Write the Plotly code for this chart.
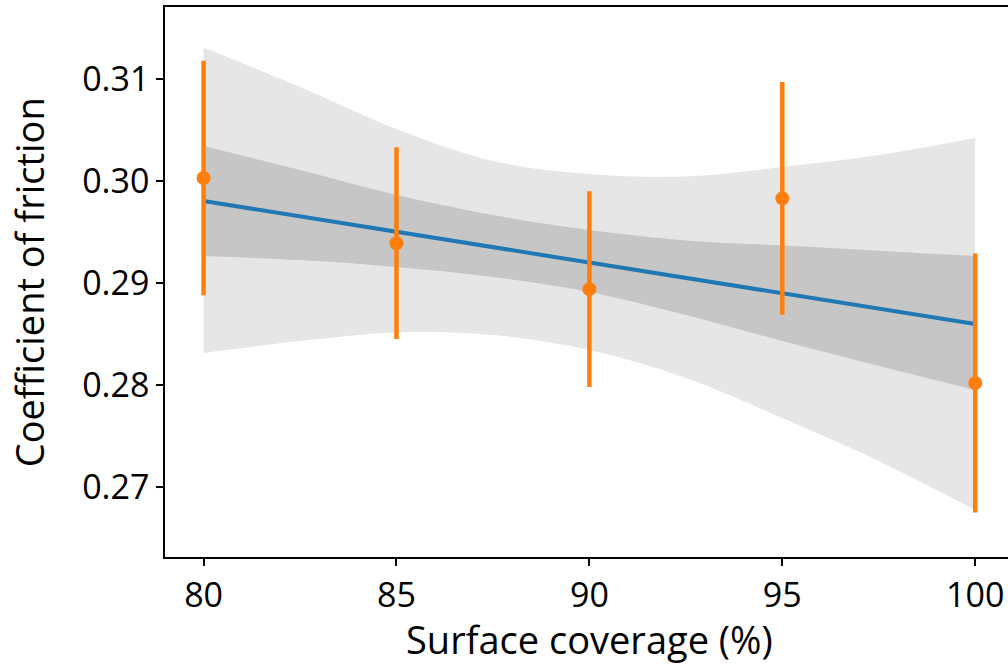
import plotly.graph_objects as go

# Measured friction per surface coverage (mean and spread)
coverage = [80, 85, 90, 95, 100]
friction_mean = [0.3003, 0.2939, 0.2894, 0.2983, 0.2802]
friction_err = [0.0115, 0.0094, 0.0096, 0.0114, 0.0127]

# Fitted trend line end points
fit_x = [80, 100]
fit_y = [0.29804, 0.28598]

# Band edges sampled along coverage
band_x = [80, 82.5, 85, 87.5, 90, 92.5, 95, 97.5, 100]
outer_upper = [0.31309, 0.30922, 0.30510, 0.30196, 0.30069, 0.30044, 0.30137, 0.30255, 0.30422]
outer_lower = [0.28314, 0.28431, 0.28515, 0.28490, 0.28343, 0.28069, 0.27676, 0.27255, 0.26775]
inner_upper = [0.30343, 0.30108, 0.29863, 0.29667, 0.29520, 0.29417, 0.29368, 0.29317, 0.29265]
inner_lower = [0.29265, 0.29225, 0.29157, 0.29059, 0.28912, 0.28686, 0.28431, 0.28186, 0.27951]

x_ticks = [80, 85, 90, 95, 100]
y_ticks = [0.27, 0.28, 0.29, 0.30, 0.31]
y_tick_text = ["0.27", "0.28", "0.29", "0.30", "0.31"]

FONT = "Open Sans"
TICK_SIZE = 34
TITLE_SIZE = 38
fig = go.Figure()

# Wide band
fig.add_trace(go.Scatter(x=band_x, y=outer_lower, mode="lines",
                         line=dict(width=0, shape="spline", color="#e6e6e6"),
                         hoverinfo="skip", showlegend=False))
fig.add_trace(go.Scatter(x=band_x, y=outer_upper, mode="lines", fill="tonexty",
                         fillcolor="#e6e6e6",
                         line=dict(width=0, shape="spline", color="#e6e6e6"),
                         hoverinfo="skip", showlegend=False))
# Narrow band
fig.add_trace(go.Scatter(x=band_x, y=inner_lower, mode="lines",
                         line=dict(width=0, shape="spline", color="#c6c6c6"),
                         hoverinfo="skip", showlegend=False))
fig.add_trace(go.Scatter(x=band_x, y=inner_upper, mode="lines", fill="tonexty",
                         fillcolor="#c6c6c6",
                         line=dict(width=0, shape="spline", color="#c6c6c6"),
                         hoverinfo="skip", showlegend=False))

# Trend line
fig.add_trace(go.Scatter(x=fit_x, y=fit_y, mode="lines",
                         line=dict(color="#1f77b4", width=4),
                         showlegend=False))

# Measurements with error bars
fig.add_trace(go.Scatter(x=coverage, y=friction_mean, mode="markers",
                         marker=dict(color="#ff7f0e", size=14),
                         error_y=dict(type="data", array=friction_err, visible=True,
                                      color="#ff7f0e", thickness=4.5, width=0),
                         showlegend=False))

fig.update_layout(
    width=1008, height=666,
    margin=dict(l=165, r=0, t=7, b=109),
    plot_bgcolor="white", paper_bgcolor="white",
    font=dict(family=FONT, size=TICK_SIZE, color="black"),
    xaxis=dict(range=[79.0, 100.85], tickvals=x_ticks, ticks="outside",
               ticklen=7, tickwidth=1.5, tickcolor="black",
               tickfont=dict(family=FONT, size=TICK_SIZE, color="black"),
               showline=True, linecolor="black", linewidth=1.5, mirror=True,
               showgrid=False, zeroline=False, automargin=False),
    yaxis=dict(range=[0.26314, 0.31706], tickvals=y_ticks, ticktext=y_tick_text,
               ticks="outside", ticklen=7, tickwidth=1.5, tickcolor="black",
               tickfont=dict(family=FONT, size=TICK_SIZE, color="black"),
               showline=True, linecolor="black", linewidth=1.5, mirror=False,
               showgrid=False, zeroline=False, automargin=False),
    annotations=[
        dict(text="Surface coverage (%)", xref="paper", yref="paper",
             x=0.503, y=-0.149, xanchor="center", yanchor="middle",
             showarrow=False, font=dict(family=FONT, size=TITLE_SIZE, color="black")),
        dict(text="Coefficient of friction", xref="paper", yref="paper",
             x=-0.161, y=0.5, xanchor="center", yanchor="middle", textangle=-90,
             showarrow=False, font=dict(family=FONT, size=TITLE_SIZE, color="black")),
    ],
)

fig.write_html("out.html")
